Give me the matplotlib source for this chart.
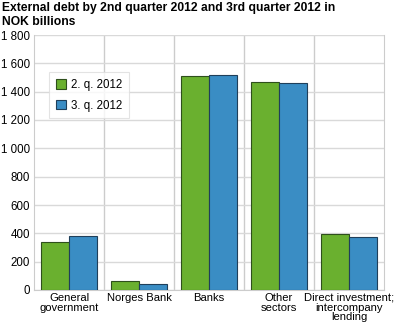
import numpy as np
import matplotlib.pyplot as plt

plt.rcParams['font.family'] = ['Liberation Sans', 'DejaVu Sans']

# data
kategorier = ['General\ngovernment', 'Norges Bank', 'Banks', 'Other\nsectors',
              'Direct investment;\nintercompany\nlending']
q2_2012 = [341, 61, 1512, 1468, 396]
q3_2012 = [384, 40, 1517, 1460, 374]
serier = ['2. q. 2012', '3. q. 2012']
yticks = [0, 200, 400, 600, 800, 1000, 1200, 1400, 1600, 1800]

fig = plt.figure(figsize=(3.94, 3.27), dpi=100)
ax = fig.add_axes([34/394, 1 - 290/327, 350/394, 255/327])

x = np.arange(len(kategorier))
w = 0.4
ax.bar(x - w/2, q2_2012, w, color='#6ab02f', edgecolor='#2e4f1c', lw=0.8,
       label=serier[0], zorder=3)
ax.bar(x + w/2, q3_2012, w, color='#3a8dc4', edgecolor='#1f3f5a', lw=0.8,
       label=serier[1], zorder=3)

ax.set_xlim(-0.5, len(kategorier) - 0.5)
ax.set_ylim(0, 1800)
ax.set_yticks(yticks)
ax.set_yticklabels([f'{v:,}'.replace(',', ' ') for v in yticks], fontsize=8.3)
ax.set_xticks(x)
ax.set_xticklabels(kategorier, fontsize=8.1, linespacing=0.98)
ax.tick_params(axis='x', length=0, pad=2)
ax.tick_params(axis='y', length=0, pad=3)

# grid
ax.yaxis.grid(True, color='#d9d9d9', lw=1, zorder=0)
for b in np.arange(0.5, len(kategorier) - 0.5):
    ax.axvline(b, color='#cccccc', lw=1, zorder=0)
for s in ax.spines.values():
    s.set_color('#cccccc')
ax.spines['top'].set_visible(False)

leg = ax.legend(loc='upper left', bbox_to_anchor=(0.043, 0.855), fontsize=8.3,
                frameon=True, fancybox=False, handlelength=0.9, handleheight=0.9,
                handletextpad=0.4, borderpad=0.6, labelspacing=0.75,
                borderaxespad=0)
leg.get_frame().set_edgecolor('#dddddd')
leg.get_frame().set_linewidth(0.8)

fig.text(0.005, 0.995, 'External debt by 2nd quarter 2012 and 3rd quarter 2012 in\nNOK billions',
         fontsize=8.7, fontweight='bold', va='top', ha='left', linespacing=1.3)

fig.savefig('out.png', dpi=100)
